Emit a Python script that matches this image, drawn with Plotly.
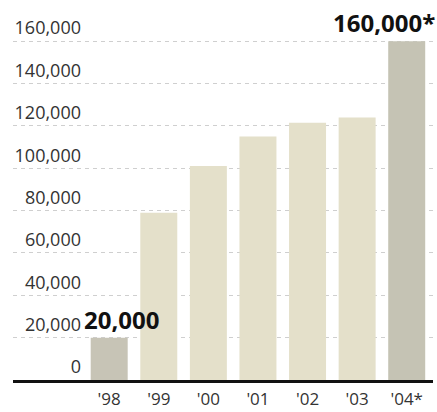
import plotly.graph_objects as go

years = ["'98", "'99", "'00", "'01", "'02", "'03", "'04*"]
values = [20000, 79000, 101000, 115000, 121500, 124000, 160000]
bar_colors = ["#c7c4b6", "#e4e0ca", "#e4e0ca", "#e4e0ca", "#e4e0ca", "#e4e0ca", "#c5c3b4"]
callout_text = ["20,000", None, None, None, None, None, "160,000*"]
callout_shift = [12, 0, 0, 0, 0, 0, -23]
ytick_vals = [0, 20000, 40000, 60000, 80000, 100000, 120000, 140000, 160000]
ytick_text = ["0", "20,000", "40,000", "60,000", "80,000", "100,000", "120,000", "140,000", "160,000"]

FONT = "Open Sans, Liberation Sans, sans-serif"

fig = go.Figure(go.Bar(
    x=years, y=values, marker=dict(color=bar_colors, line=dict(width=0)),
    hoverinfo="skip",
))

for x, v, t, s in zip(years, values, callout_text, callout_shift):
    if t:
        fig.add_annotation(x=x, y=v, text=f"<b>{t}</b>", showarrow=False,
                           yanchor="bottom", xanchor="center", xshift=s, yshift=0,
                           font=dict(family=FONT, size=24, color="#111111"))

fig.update_layout(
    width=437, height=412,
    margin=dict(l=13, r=4, t=20, b=32),
    paper_bgcolor="white", plot_bgcolor="white",
    bargap=0.254, showlegend=False,
    font=dict(family=FONT, color="#333333"),
)
fig.update_xaxes(
    range=[-1.94, 6.53], showgrid=False, ticks="",
    showline=True, linecolor="#111111", linewidth=3,
    tickfont=dict(size=17, color="#333333"), ticklabelstandoff=2,
    automargin=False, fixedrange=True,
)
fig.update_yaxes(
    range=[0, 170000], tickvals=ytick_vals, ticktext=ytick_text,
    showgrid=True, gridcolor="#cfcfcf", gridwidth=1, griddash="4px,4px",
    zeroline=False, showline=False, ticks="",
    ticklabelposition="outside", ticklabelstandoff=-69, ticklabelshift=-13,
    tickfont=dict(size=18, color="#333333"),
    automargin=False, fixedrange=True,
)

fig.write_html(
    "out.html",
    config={"displayModeBar": False},
    post_script="document.body.style.margin='0';document.body.style.overflow='hidden';",
)
